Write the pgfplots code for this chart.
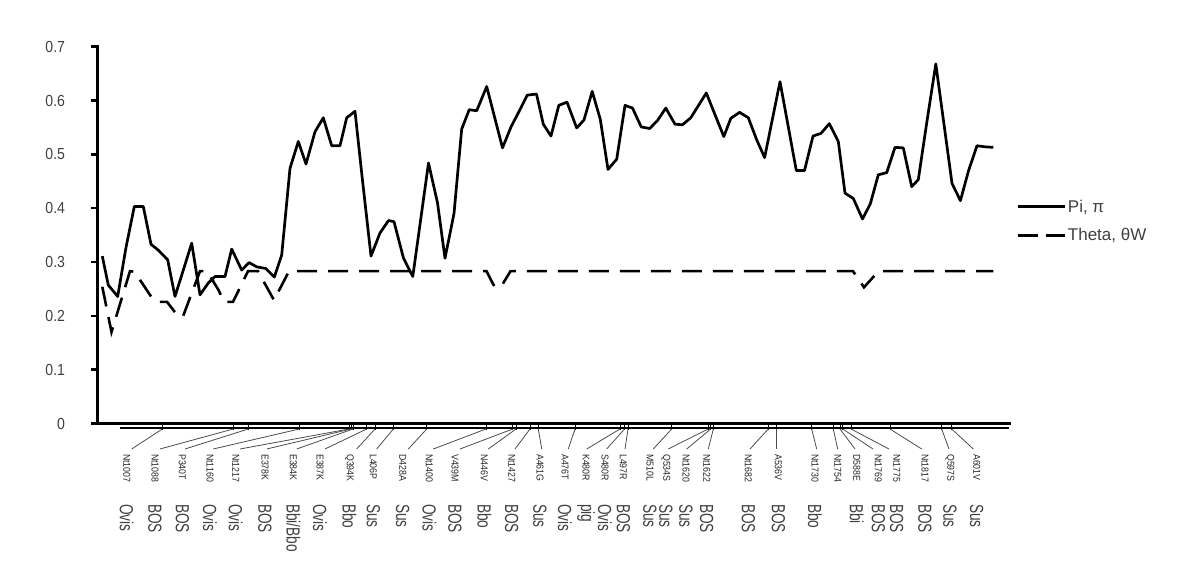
\documentclass[border=0pt]{standalone}
\usepackage{fontspec}
\setmainfont{Liberation Sans}
\usepackage{pgfplots}
\pgfplotsset{compat=1.18}
\begin{document}
\begin{tikzpicture}[x=1pt,y=1pt]
\useasboundingbox (0,0) rectangle (1200,-585);
\begin{axis}[
  at={(97pt,-423.5pt)}, anchor=south west,
  scale only axis, width=912pt, height=376.8pt,
  xmin=97, xmax=1009, ymin=0, ymax=0.7,
  axis lines=left,
  axis line style={line width=3pt,-,line cap=rect},
  clip=false,
  xtick=\empty,
  ytick={0,0.1,0.2,0.3,0.4,0.5,0.6,0.7},
  yticklabels={0,0.1,0.2,0.3,0.4,0.5,0.6,0.7},
  tick align=outside,
  major tick length=6pt,
  y tick style={line width=2.5pt,black},
  yticklabel style={font=\fontsize{16}{16}\selectfont, text=black!75, xscale=0.88, anchor=east, xshift=-26pt},
  legend style={draw=none, fill=none, at={(1.0044,0.537)}, anchor=west,
    font=\fontsize{17}{18}\selectfont, text=black!75, row sep=11pt},
  legend cell align=left,
  legend image code/.code={\draw[#1] (0pt,0pt) -- (47pt,0pt);},
]
\addplot[black, line width=2.7pt, line join=round] coordinates {
(102.3,0.311) (108.3,0.257) (117.7,0.236) (126,0.327) (134.3,0.403) (143.3,0.403) (151,0.333) (158.3,0.322) (167.7,0.304) (175,0.236) (183.3,0.285) (191.7,0.335) (200,0.239) (208.3,0.261) (215,0.273) (225,0.273) (231.7,0.324) (241.7,0.285) (249,0.299) (256.7,0.291) (265.7,0.288) (274.3,0.272) (281.7,0.313) (290,0.474) (298.3,0.524) (306,0.482) (315,0.542) (323.3,0.568) (331.7,0.516) (340,0.516) (346.7,0.568) (355,0.580) (362,0.46) (371,0.311) (380,0.354) (388.5,0.377) (394,0.375) (403.5,0.307) (412.8,0.273) (428.5,0.484) (437.5,0.410) (445,0.307) (454,0.39) (461.7,0.547) (469.2,0.583) (476.7,0.581) (486.7,0.626) (502.5,0.512) (511,0.551) (518.3,0.577) (527.2,0.610) (536.5,0.612) (543.3,0.556) (551,0.534) (558.8,0.591) (567,0.597) (576.7,0.549) (584,0.564) (592.2,0.617) (600.3,0.565) (608,0.472) (616.7,0.491) (625,0.591) (632.5,0.586) (641.2,0.551) (649.7,0.548) (657.5,0.563) (665.8,0.586) (675,0.556) (682.5,0.555) (690.8,0.568) (706.3,0.614) (723.8,0.533) (730.8,0.567) (739.6,0.578) (748.3,0.568) (756.7,0.527) (764.6,0.494) (780,0.635) (796.3,0.470) (804.5,0.470) (813,0.534) (821,0.539) (829.3,0.557) (838.3,0.524) (845,0.428) (853.3,0.418) (862.5,0.380) (870.3,0.408) (878.3,0.462) (886.7,0.466) (895,0.513) (903.3,0.512) (911.7,0.440) (918.3,0.453) (927,0.562) (935.8,0.668) (952,0.446) (960.4,0.414) (968.6,0.470) (977,0.516) (985,0.514) (993.3,0.513)
};
\addlegendentry{Pi, π}
\addplot[black, line width=2.6pt, dash pattern=on 20pt off 11pt,
  legend image code/.code={\draw[black, line width=2.6pt, dash pattern=on 20pt off 8pt] (0pt,0pt) -- (47pt,0pt);}] coordinates {
(102.3,0.254) (111.5,0.170) (130,0.283) (134.5,0.282) (151,0.236) (157,0.226) (167,0.226) (172,0.214) (178,0.199) (183,0.199) (200,0.283) (207,0.283) (218.5,0.248) (224,0.226) (233,0.226) (248,0.283) (258,0.283) (274,0.229) (289,0.283) (486.5,0.283) (494.5,0.254) (501,0.254) (510.5,0.283) (853,0.283) (864,0.253) (878.5,0.283) (993.3,0.283)
};
\addlegendentry{Theta, θW}
\end{axis}
\draw[line width=2.2pt] (120,-427.8) -- (1009,-427.8);
\foreach \t/\l/\e/\n/\s in {
162.3/126.7/131.7/Nt1007/Ovis,
233.3/155/160/Nt1088/BOS,
248.3/182.3/185/P340T/BOS,
299.3/210/213.3/Nt1160/Ovis,
349/235.7/240/Nt1217/Ovis,
351/265/266.7/E378K/BOS,
353/293.3/296.7/E384K/Bbi\slash Bbo,
366.7/320/325/E387K/Ovis,
375/349.3/356.7/Q394K/Bbo,
393.3/373.3/376.7/L406P/Sus,
426.7/402.7/408.3/D428A/Sus,
486/429.3/433.3/Nt1400/Ovis,
512.7/455/460/V439M/BOS,
516/484.3/488.3/N446V/Bbo,
530/511.7/515/Nt1427/BOS,
538.3/540/541.7/A461G/Sus,
575/565/568.3/A476T/Ovis,
620/586/586.7/K480R/pig,
624.5/605/606.7/S480R/Ovis,
628/623.3/625/L497R/BOS,
671.7/650/653.3/M510L/Sus,
708.3/666/668.3/Q534S/Sus,
710.7/686/686.7/Nt1620/Sus,
713.3/706.7/708.3/Nt1622/BOS,
768.3/748.3/750/Nt1682/BOS,
776.7/778.3/776.7/A536V/BOS,
811.7/815/816.7/Nt1730/Bbo,
833.3/837.7/837.7/Nt1754/{},
840/856.7/855/D588E/Bbi,
842.7/878.3/873/Nt1769/BOS,
851/896.7/889/Nt1775/BOS,
890/925/921.7/Nt1817/BOS,
941.7/950/949/Q597S/Sus,
951.7/976.7/973.3/A601V/Sus}{
  \draw[line width=1pt] (\t,-423.5) -- (\t,-429.5);
  \draw[black!70, line width=0.8pt] (\t,-429) -- (\e,-449);
  \node[rotate=-90, xscale=0.88, anchor=west, inner sep=0pt, text=black!85,
    font=\fontsize{10}{10}\selectfont] at (\l,-454) {\n};
  \node[rotate=-90, xscale=0.72, anchor=west, inner sep=0pt, text=black!75,
    font=\fontsize{19}{19}\selectfont] at (\l,-504) {\s};
}
\end{tikzpicture}
\end{document}
